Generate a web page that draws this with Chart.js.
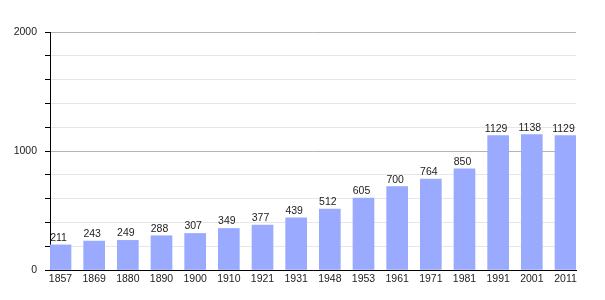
<!DOCTYPE html>
<html>
<head>
<meta charset="utf-8">
<script src="https://cdn.jsdelivr.net/npm/chart.js@4/dist/chart.umd.min.js"></script>
<style>
  html, body { margin: 0; padding: 0; background: #fff; }
  #wrap { width: 605px; height: 300px; position: relative; }
</style>
</head>
<body>
<div id="wrap"><canvas id="popChart"></canvas></div>
<script>
const years = ["1857", "1869", "1880", "1890", "1900", "1910", "1921", "1931", "1948", "1953", "1961", "1971", "1981", "1991", "2001", "2011"];
const population = [211, 243, 249, 288, 307, 349, 377, 439, 512, 605, 700, 764, 850, 1129, 1138, 1129];
const yLabelValues = [0, 1000, 2000];

const fontFamily = "'Liberation Sans', Arial, sans-serif";
const fontSize = 10.5;
const barWidth = 21;
// half a bar on each side, in category units (pitch is about 33.67px)
const edge = 0.312;

const valueLabels = {
  id: "valueLabels",
  afterDatasetsDraw(chart) {
    const ctx = chart.ctx;
    const meta = chart.getDatasetMeta(0);
    ctx.save();
    ctx.font = fontSize + "px " + fontFamily;
    ctx.fillStyle = "#222";
    ctx.textAlign = "center";
    ctx.textBaseline = "alphabetic";
    meta.data.forEach((bar, i) => {
      ctx.fillText(String(population[i]), bar.x - 2, bar.y - 4);
    });
    ctx.restore();
  }
};

new Chart(document.getElementById("popChart"), {
  type: "bar",
  data: {
    datasets: [
      {
        data: population.map((v, i) => ({ x: i, y: v })),
        backgroundColor: "#99aaff",
        borderWidth: 0,
        barThickness: barWidth
      }
    ]
  },
  options: {
    responsive: true,
    maintainAspectRatio: false,
    animation: false,
    events: [],
    layout: { padding: { top: 32, right: 29, bottom: 0, left: 0 } },
    plugins: {
      legend: { display: false },
      tooltip: { enabled: false }
    },
    scales: {
      x: {
        type: "linear",
        min: -edge,
        max: years.length - 1 + edge,
        offset: false,
        afterBuildTicks(scale) {
          scale.ticks = years.map((_, i) => ({ value: i }));
        },
        afterFit(scale) {
          scale.height = 30;
        },
        grid: { display: false, drawTicks: false },
        border: { display: true, color: "#000", width: 1 },
        ticks: {
          autoSkip: false,
          maxRotation: 0,
          padding: 3,
          color: "#222",
          font: { family: fontFamily, size: fontSize },
          callback: (value) => years[value]
        }
      },
      y: {
        min: 0,
        max: 2000,
        afterFit(scale) {
          scale.width = 50;
        },
        grid: {
          color: (ctx) => (ctx.tick && ctx.tick.value % 1000 === 0 ? "#b4b4b4" : "#e6e6e6"),
          tickColor: "#000",
          tickLength: 5
        },
        border: { display: true, color: "#000", width: 1 },
        ticks: {
          stepSize: 200,
          padding: 8,
          color: "#222",
          font: { family: fontFamily, size: fontSize },
          callback: (value) => (yLabelValues.includes(value) ? String(value) : "")
        }
      }
    }
  },
  plugins: [valueLabels]
});
</script>
</body>
</html>
